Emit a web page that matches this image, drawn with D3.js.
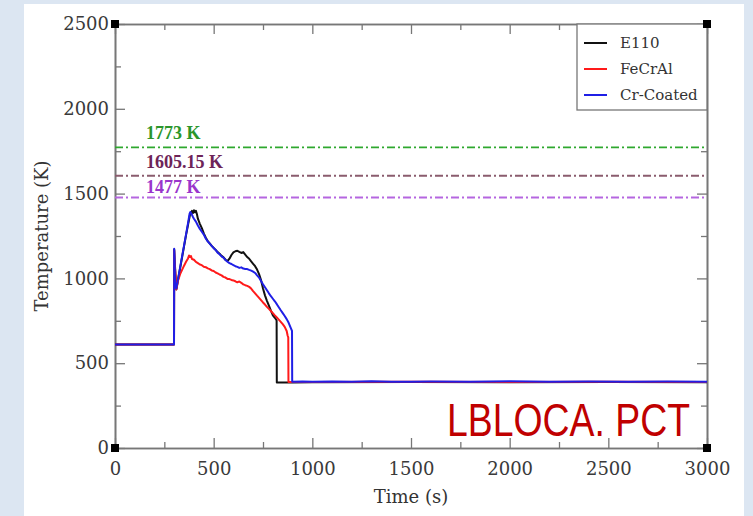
<!DOCTYPE html>
<html>
<head>
<meta charset="utf-8">
<script src="https://cdn.jsdelivr.net/npm/d3@7"></script>
<style>
  html, body { margin: 0; padding: 0; background: #dce6f2; }
  svg { display: block; }
</style>
</head>
<body>
<svg id="chart" width="753" height="516"></svg>
<script>
// Cladding temperature histories (time in s, temperature in K)
const timeE110 = [0, 299, 300, 302, 311, 320, 340, 360, 380, 390, 395, 400, 405, 410, 415, 420, 430, 440, 450, 460, 470, 480, 490, 500, 510, 520, 530, 540, 550, 560, 570, 580, 590, 600, 610, 620, 630, 640, 650, 660, 670, 680, 690, 700, 710, 720, 730, 740, 750, 760, 770, 780, 790, 800, 810, 815, 819, 820, 900, 1000, 1500, 2000, 2500, 3000];
const tempE110 = [610, 610, 1170, 1110, 935, 995, 1125, 1255, 1375, 1398, 1385, 1402, 1390, 1398, 1380, 1352, 1322, 1296, 1266, 1240, 1220, 1206, 1192, 1180, 1168, 1155, 1145, 1133, 1124, 1110, 1102, 1116, 1138, 1153, 1160, 1163, 1156, 1150, 1155, 1140, 1126, 1116, 1100, 1086, 1072, 1052, 1025, 990, 940, 900, 868, 840, 810, 782, 768, 760, 752, 386, 386, 388, 389, 388, 389, 388];

const timeFeCrAl = [0, 299, 300, 302, 311, 320, 330, 340, 350, 360, 370, 375, 380, 385, 390, 400, 410, 420, 430, 440, 450, 460, 470, 480, 490, 500, 510, 520, 530, 540, 550, 560, 570, 580, 590, 600, 610, 620, 630, 640, 650, 660, 670, 680, 690, 700, 710, 720, 730, 740, 750, 760, 770, 780, 790, 800, 810, 820, 830, 840, 850, 860, 870, 875, 878, 879, 1000, 1500, 2000, 2500, 3000];
const tempFeCrAl = [610, 610, 1165, 1100, 935, 990, 1025, 1050, 1075, 1098, 1118, 1135, 1126, 1132, 1114, 1110, 1097, 1090, 1082, 1078, 1069, 1066, 1059, 1055, 1047, 1044, 1035, 1030, 1023, 1018, 1009, 1005, 997, 996, 991, 988, 983, 977, 982, 974, 965, 960, 956, 950, 940, 925, 912, 898, 885, 872, 858, 846, 832, 820, 808, 795, 782, 770, 757, 744, 730, 714, 690, 662, 652, 389, 389, 390, 389, 390, 389];

const timeCr = [0, 299, 300, 302, 304, 306, 311, 320, 330, 340, 350, 360, 370, 378, 382, 388, 395, 400, 410, 420, 430, 440, 450, 460, 470, 480, 490, 500, 510, 520, 530, 540, 550, 560, 570, 580, 590, 600, 610, 620, 630, 640, 650, 660, 670, 680, 690, 700, 710, 720, 730, 740, 750, 760, 770, 780, 790, 800, 810, 820, 830, 840, 850, 860, 870, 880, 890, 897, 898, 950, 1000, 1100, 1200, 1300, 1400, 1500, 1600, 1800, 2000, 2200, 2400, 2600, 2800, 3000];
const tempCr = [610, 610, 1175, 1120, 1000, 960, 940, 1000, 1065, 1130, 1195, 1260, 1325, 1382, 1392, 1380, 1362, 1352, 1335, 1312, 1292, 1275, 1258, 1235, 1218, 1205, 1192, 1178, 1168, 1152, 1142, 1130, 1122, 1108, 1098, 1090, 1085, 1078, 1072, 1068, 1062, 1065, 1058, 1056, 1055, 1050, 1046, 1040, 1032, 1018, 1005, 985, 965, 948, 930, 912, 895, 880, 865, 848, 830, 812, 795, 778, 760, 738, 710, 690, 391, 392, 390, 392, 390, 393, 391, 390, 392, 391, 393, 390, 392, 391, 392, 391];

const seriesNames = ["E110", "FeCrAl", "Cr-Coated"];
const seriesColors = ["#111111", "#ff1a1a", "#1f1fe6"];

// Temperature limits drawn as dash-dot references
const limitValues = [1773, 1605.15, 1477];
const limitLabels = ["1773 K", "1605.15 K", "1477 K"];
const limitLineColors = ["#2fa82f", "#8a5c6e", "#b566e0"];
const limitTextColors = ["#2b962b", "#6e2458", "#9a36cc"];

const xTicks = [0, 500, 1000, 1500, 2000, 2500, 3000];
const xMinorTicks = [250, 750, 1250, 1750, 2250, 2750];
const yTicks = [0, 500, 1000, 1500, 2000, 2500];
const yMinorTicks = [250, 750, 1250, 1750, 2250];

const svg = d3.select("#chart");
const W = 753, H = 516;
const plotL = 115, plotR = 707, plotT = 24, plotB = 448;

// white panel
svg.append("rect").attr("x", 24).attr("y", 4).attr("width", 720).attr("height", H - 4).attr("fill", "#ffffff");

const x = d3.scaleLinear().domain([0, 3000]).range([plotL, plotR]);
const y = d3.scaleLinear().domain([0, 2500]).range([plotB, plotT]);

const tickFont = "'DejaVu Serif', serif";
const axisColor = "#777";

function styleAxis(g) {
  g.select(".domain").attr("stroke", axisColor).attr("stroke-width", 1.6);
  g.selectAll(".tick line").attr("stroke", axisColor).attr("stroke-width", 1.3);
  g.selectAll(".tick text").attr("fill", "#3a3a3a").style("font-family", tickFont).style("font-size", "18px");
}

// minor ticks (all four sides)
svg.append("g").attr("transform", `translate(0,${plotB})`)
  .call(d3.axisBottom(x).tickValues(xMinorTicks).tickSizeInner(-6).tickSizeOuter(0).tickFormat(""))
  .call(styleAxis);
svg.append("g").attr("transform", `translate(0,${plotT})`)
  .call(d3.axisTop(x).tickValues(xMinorTicks).tickSizeInner(-6).tickSizeOuter(0).tickFormat(""))
  .call(styleAxis);
svg.append("g").attr("transform", `translate(${plotL},0)`)
  .call(d3.axisLeft(y).tickValues(yMinorTicks).tickSizeInner(-6).tickSizeOuter(0).tickFormat(""))
  .call(styleAxis);
svg.append("g").attr("transform", `translate(${plotR},0)`)
  .call(d3.axisRight(y).tickValues(yMinorTicks).tickSizeInner(-6).tickSizeOuter(0).tickFormat(""))
  .call(styleAxis);

// major ticks
svg.append("g").attr("transform", `translate(0,${plotB})`)
  .call(d3.axisBottom(x).tickValues(xTicks).tickSizeInner(-10).tickSizeOuter(0).tickPadding(14).tickFormat(d3.format("d")))
  .call(styleAxis);
svg.append("g").attr("transform", `translate(0,${plotT})`)
  .call(d3.axisTop(x).tickValues(xTicks).tickSizeInner(-10).tickSizeOuter(0).tickFormat(""))
  .call(styleAxis);
svg.append("g").attr("transform", `translate(${plotL},0)`)
  .call(d3.axisLeft(y).tickValues(yTicks).tickSizeInner(-10).tickSizeOuter(0).tickPadding(6).tickFormat(d3.format("d")))
  .call(styleAxis);
svg.append("g").attr("transform", `translate(${plotR},0)`)
  .call(d3.axisRight(y).tickValues(yTicks).tickSizeInner(-10).tickSizeOuter(0).tickFormat(""))
  .call(styleAxis);

// reference limits
limitValues.forEach((v, i) => {
  svg.append("line")
    .attr("x1", x(0)).attr("x2", x(3000))
    .attr("y1", y(v)).attr("y2", y(v))
    .attr("stroke", limitLineColors[i]).attr("stroke-width", 1.8)
    .attr("stroke-dasharray", "8,3,2,3");
});
const labelOffsets = [-8, -8, -5];
limitValues.forEach((v, i) => {
  svg.append("text")
    .attr("x", 146).attr("y", y(v) + labelOffsets[i])
    .attr("fill", limitTextColors[i])
    .style("font-family", "'Liberation Serif', serif")
    .style("font-weight", "bold").style("font-size", "18px")
    .text(limitLabels[i]);
});

// temperature curves
const line = d3.line().x(d => x(d[0])).y(d => y(d[1]));
const seriesData = [
  d3.zip(timeE110, tempE110),
  d3.zip(timeFeCrAl, tempFeCrAl),
  d3.zip(timeCr, tempCr)
];
seriesData.forEach((pts, i) => {
  svg.append("path").datum(pts)
    .attr("d", line)
    .attr("fill", "none")
    .attr("stroke", seriesColors[i])
    .attr("stroke-width", 2)
    .attr("stroke-linejoin", "round");
});

// legend
const lg = svg.append("g");
lg.append("rect").attr("x", 577).attr("y", plotT).attr("width", plotR - 577).attr("height", 86)
  .attr("fill", "#fff").attr("stroke", axisColor).attr("stroke-width", 1.3);
seriesNames.forEach((name, i) => {
  const ly = 43 + i * 26;
  lg.append("line").attr("x1", 584).attr("x2", 607).attr("y1", ly).attr("y2", ly)
    .attr("stroke", seriesColors[i]).attr("stroke-width", 2);
  lg.append("text").attr("x", 620).attr("y", ly + 5)
    .attr("fill", "#333")
    .style("font-family", tickFont).style("font-size", "15px")
    .text(name);
});

// corner markers
[[plotL, plotT], [plotR, plotT], [plotL, plotB], [plotR, plotB]].forEach(([cx, cy]) => {
  svg.append("rect").attr("x", cx - 4).attr("y", cy - 4).attr("width", 8).attr("height", 8).attr("fill", "#000");
});

// axis titles
svg.append("text")
  .attr("x", (plotL + plotR) / 2).attr("y", 503)
  .attr("text-anchor", "middle").attr("fill", "#333")
  .style("font-family", tickFont).style("font-size", "18px")
  .text("Time (s)");
svg.append("text")
  .attr("transform", `translate(48,${(plotT + plotB) / 2}) rotate(-90)`)
  .attr("text-anchor", "middle").attr("fill", "#333")
  .style("font-family", tickFont).style("font-size", "18px")
  .text("Temperature (K)");

// case tag
svg.append("text")
  .attr("x", 447).attr("y", 436)
  .attr("textLength", 243).attr("lengthAdjust", "spacingAndGlyphs")
  .attr("fill", "#c00000")
  .style("font-family", "'Liberation Sans Narrow', 'Liberation Sans', sans-serif")
  .style("font-size", "46px")
  .text("LBLOCA. PCT");
</script>
</body>
</html>
